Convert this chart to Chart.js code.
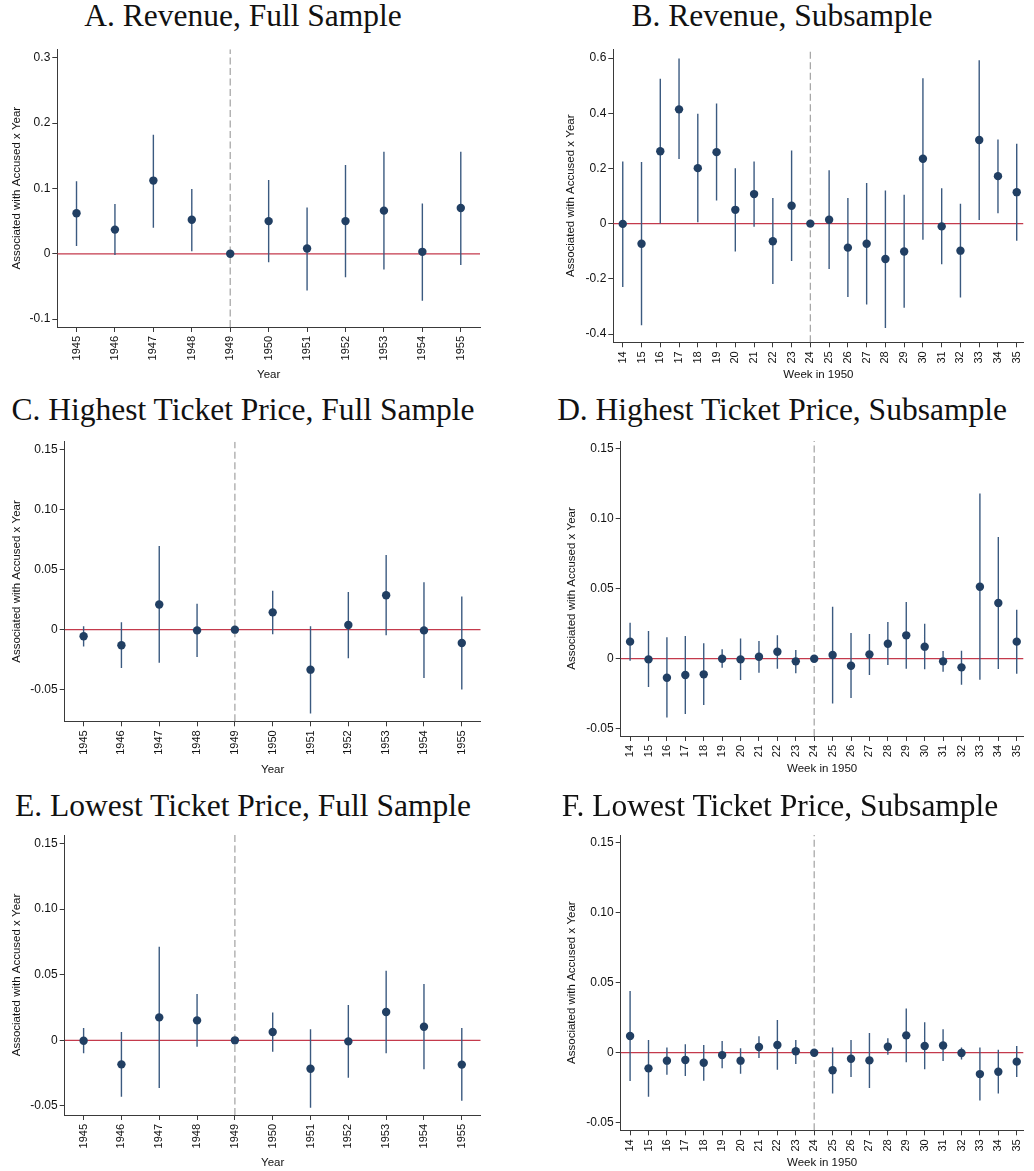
<!DOCTYPE html>
<html><head><meta charset="utf-8">
<script src="https://cdn.jsdelivr.net/npm/chart.js@4.4.1/dist/chart.umd.min.js"></script>
<style>
html,body{margin:0;padding:0;background:#fff;}
#wrap{position:relative;width:1034px;height:1171px;overflow:hidden;background:#fff;}
canvas{position:absolute;}
.ttl{position:absolute;width:600px;text-align:center;font-family:"Liberation Serif","Times New Roman",serif;font-size:31.5px;line-height:31.5px;color:#111;white-space:nowrap;}
</style></head><body><div id="wrap"></div>
<script>
// ---- categories ----
const years = [1945,1946,1947,1948,1949,1950,1951,1952,1953,1954,1955];
const weeks = [14,15,16,17,18,19,20,21,22,23,24,25,26,27,28,29,30,31,32,33,34,35];
const refYear = 1949;
const refWeek = 24;

// ---- tick labels ----
const yTicksRev = [-0.1,0,0.1,0.2,0.3];
const yLabelsRev = ["-0.1","0","0.1","0.2","0.3"];
const yTicksRevSub = [-0.4,-0.2,0,0.2,0.4,0.6];
const yLabelsRevSub = ["-0.4","-0.2","0","0.2","0.4","0.6"];
const yTicksPrice = [-0.05,0,0.05,0.10,0.15];
const yLabelsPrice = ["-0.05","0","0.05","0.10","0.15"];

// ---- A. Revenue, Full Sample ----
const coefA = [0.062,0.037,0.112,0.052,0,0.050,0.008,0.050,0.066,0.003,0.070];
const loA   = [0.012,-0.002,0.040,0.004,null,-0.013,-0.056,-0.036,-0.024,-0.072,-0.017];
const hiA   = [0.111,0.076,0.182,0.099,null,0.113,0.071,0.136,0.156,0.077,0.156];

// ---- B. Revenue, Subsample ----
const coefB = [-0.001,-0.073,0.262,0.414,0.201,0.259,0.050,0.107,-0.064,0.065,0,0.014,-0.087,-0.073,-0.128,-0.101,0.235,-0.010,-0.098,0.303,0.172,0.114];
const loB   = [-0.230,-0.368,0.000,0.234,0.005,0.084,-0.101,-0.011,-0.219,-0.135,null,-0.164,-0.266,-0.293,-0.378,-0.305,-0.058,-0.147,-0.268,0.013,0.038,-0.062];
const hiB   = [0.225,0.223,0.525,0.598,0.398,0.435,0.201,0.225,0.093,0.265,null,0.193,0.093,0.147,0.120,0.105,0.527,0.128,0.072,0.592,0.305,0.289];

// ---- C. Highest Ticket Price, Full Sample ----
const coefC = [-0.0055,-0.013,0.021,-0.0006,0,0.0144,-0.0333,0.0039,0.0286,-0.0006,-0.0111];
const loC   = [-0.0141,-0.0319,-0.0275,-0.0227,null,-0.0039,-0.0699,-0.0239,-0.0047,-0.0402,-0.0499];
const hiC   = [0.0028,0.0061,0.0696,0.0216,null,0.0325,0.0028,0.0313,0.0621,0.0394,0.0277];

// ---- D. Highest Ticket Price, Subsample ----
const coefD = [0.0122,-0.0005,-0.0136,-0.0117,-0.0112,0,-0.0005,0.0014,0.005,-0.0019,0,0.0026,-0.005,0.0031,0.0107,0.0167,0.0086,-0.0019,-0.0062,0.0515,0.0398,0.0122];
const loD   = [-0.0014,-0.0203,-0.042,-0.0396,-0.0331,-0.0064,-0.0153,-0.01,-0.0072,-0.0105,null,-0.032,-0.0281,-0.0117,-0.0045,-0.0072,-0.0076,-0.0093,-0.0186,-0.015,-0.0074,-0.0107];
const hiD   = [0.0257,0.0198,0.0153,0.0162,0.011,0.0067,0.0145,0.0126,0.0167,0.0062,null,0.0372,0.0184,0.0176,0.0262,0.0405,0.025,0.0055,0.0057,0.1182,0.087,0.035];

// ---- E. Lowest Ticket Price, Full Sample ----
const coefE = [-0.0003,-0.0183,0.0175,0.0152,0,0.0064,-0.0216,-0.0008,0.0216,0.0104,-0.0185];
const loE   = [-0.0099,-0.043,-0.0363,-0.0048,null,-0.0086,-0.0513,-0.0285,-0.0099,-0.0221,-0.046];
const hiE   = [0.0094,0.0064,0.0714,0.0353,null,0.0213,0.0084,0.0269,0.0531,0.0429,0.0094];

// ---- F. Lowest Ticket Price, Subsample ----
const coefF = [0.0119,-0.0112,-0.0057,-0.0052,-0.0072,-0.0017,-0.0057,0.0041,0.0055,0.001,0,-0.0126,-0.0043,-0.0055,0.0043,0.0124,0.0048,0.0052,-0.0002,-0.0153,-0.0136,-0.0064];
const loF   = [-0.0203,-0.0315,-0.0157,-0.0167,-0.02,-0.0112,-0.015,-0.0038,-0.0122,-0.0081,null,-0.0291,-0.0174,-0.0253,-0.0014,-0.0069,-0.0119,-0.006,-0.0048,-0.0341,-0.0291,-0.0174];
const hiF   = [0.0441,0.0091,0.0038,0.006,0.0055,0.0083,0.0031,0.0117,0.0234,0.0091,null,0.0038,0.0091,0.0141,0.0103,0.0317,0.0217,0.0167,0.0038,0.0038,0.0021,0.0048];

const panels = [
  {title:"A. Revenue, Full Sample", cats:years, coef:coefA, lo:loA, hi:hiA, ref:refYear, xTitle:"Year",
   yTicks:yTicksRev, yLabels:yLabelsRev, xMin:1944.5, xMax:1955.5, yMin:-0.112, yMax:0.313,
   g:{cx:0,cy:40,cw:500,ch:350,L:57.3,R:480,T:46.7,B:327,yT:16.5,xT:375,tc:243,tb:26}},
  {title:"B. Revenue, Subsample", cats:weeks, coef:coefB, lo:loB, hi:hiB, ref:refWeek, xTitle:"Week in 1950",
   yTicks:yTicksRevSub, yLabels:yLabelsRevSub, xMin:13.496, xMax:35.36, yMin:-0.43, yMax:0.632,
   g:{cx:520,cy:40,cw:514,ch:350,L:613.3,R:1034,T:46.7,B:342.3,yT:571,xT:375,tc:782,tb:26}},
  {title:"C. Highest Ticket Price, Full Sample", cats:years, coef:coefC, lo:loC, hi:hiC, ref:refYear, xTitle:"Year",
   yTicks:yTicksPrice, yLabels:yLabelsPrice, xMin:1944.5, xMax:1955.5, yMin:-0.0763, yMax:0.1565,
   g:{cx:0,cy:430,cw:500,ch:352,L:64.7,R:480.7,T:441.7,B:721.3,yT:16.5,xT:770,tc:243,tb:420}},
  {title:"D. Highest Ticket Price, Subsample", cats:weeks, coef:coefD, lo:loD, hi:hiD, ref:refWeek, xTitle:"Week in 1950",
   yTicks:yTicksPrice, yLabels:yLabelsPrice, xMin:13.49, xMax:35.37, yMin:-0.0553, yMax:0.1557,
   g:{cx:520,cy:430,cw:514,ch:352,L:620.7,R:1034,T:441,B:736,yT:571.7,xT:769,tc:782,tb:420}},
  {title:"E. Lowest Ticket Price, Full Sample", cats:years, coef:coefE, lo:loE, hi:hiE, ref:refYear, xTitle:"Year",
   yTicks:yTicksPrice, yLabels:yLabelsPrice, xMin:1944.5, xMax:1955.5, yMin:-0.0569, yMax:0.1565,
   g:{cx:0,cy:820,cw:500,ch:351,L:64.7,R:480.7,T:835,B:1115,yT:16.5,xT:1163,tc:243,tb:816}},
  {title:"F. Lowest Ticket Price, Subsample", cats:weeks, coef:coefF, lo:loF, hi:hiF, ref:refWeek, xTitle:"Week in 1950",
   yTicks:yTicksPrice, yLabels:yLabelsPrice, xMin:13.49, xMax:35.37, yMin:-0.0555, yMax:0.1557,
   g:{cx:520,cy:820,cw:514,ch:351,L:620.7,R:1034,T:835,B:1130.3,yT:571.7,xT:1163,tc:780,tb:816}}
];

const wrap = document.getElementById('wrap');
const SANS = '"Liberation Sans", Arial, Helvetica, sans-serif';
const AX = '#3a3a3a';
const DOT = '#213f63';
const BAR = '#3b5a80';
const RED = '#c43a4c';
const DASH = '#a8a8a8';
const TFS = 11.5, TLH = TFS * 1.2;

panels.forEach(p => {
  const g = p.g;
  // title (real text)
  const t = document.createElement('div');
  t.className = 'ttl';
  t.textContent = p.title;
  t.style.left = (g.tc - 300) + 'px';
  t.style.top = (g.tb - 26) + 'px';
  wrap.appendChild(t);

  const cv = document.createElement('canvas');
  cv.width = g.cw; cv.height = g.ch;
  cv.style.left = g.cx + 'px'; cv.style.top = g.cy + 'px';
  cv.style.width = g.cw + 'px'; cv.style.height = g.ch + 'px';
  wrap.appendChild(cv);

  const pts = p.cats.map((c, i) => ({x: c, y: p.coef[i]}));
  const bars = [];
  p.cats.forEach((c, i) => {
    if (p.lo[i] !== null && p.hi[i] !== null) {
      bars.push({x: c, y: p.lo[i]}, {x: c, y: p.hi[i]}, {x: c, y: null});
    }
  });

  new Chart(cv, {
    type: 'scatter',
    data: {
      datasets: [
        {data: pts, showLine: false, pointRadius: 4.2, pointBackgroundColor: DOT, pointBorderColor: DOT, pointBorderWidth: 0, order: 0},
        {data: bars, showLine: true, spanGaps: false, borderColor: BAR, borderWidth: 1.4, pointRadius: 0, order: 1},
        {data: [{x: p.ref, y: p.yMin}, {x: p.ref, y: p.yMax}], showLine: true, borderColor: DASH, borderWidth: 1.3, borderDash: [7, 3.5], pointRadius: 0, order: 2},
        {data: [{x: p.xMin, y: 0}, {x: p.xMax, y: 0}], showLine: true, borderColor: RED, borderWidth: 1.3, pointRadius: 0, order: 3}
      ]
    },
    options: {
      responsive: false,
      animation: false,
      devicePixelRatio: 1,
      events: [],
      layout: {padding: {left: 0, top: g.T - g.cy, right: g.cx + g.cw - g.R, bottom: 0}},
      plugins: {legend: {display: false}, tooltip: {enabled: false}, title: {display: false}},
      scales: {
        x: {
          type: 'linear', min: p.xMin, max: p.xMax,
          afterBuildTicks: ax => { ax.ticks = p.cats.map(v => ({value: v})); },
          afterFit: sc => { sc.height = g.cy + g.ch - g.B; },
          ticks: {autoSkip: false, minRotation: 90, maxRotation: 90, padding: 4, color: '#111',
                  font: {family: SANS, size: 11}, callback: v => String(v)},
          grid: {drawOnChartArea: false, drawTicks: true, tickLength: 5, color: AX},
          border: {display: true, color: AX, width: 1},
          title: {display: true, text: p.xTitle, color: '#111', font: {family: SANS, size: TFS},
                  padding: {top: 0, bottom: g.cy + g.ch - g.xT - TLH / 2}}
        },
        y: {
          type: 'linear', min: p.yMin, max: p.yMax,
          afterBuildTicks: ax => { ax.ticks = p.yTicks.map(v => ({value: v})); },
          afterFit: sc => { sc.width = g.L - g.cx; },
          ticks: {padding: 2, color: '#111', font: {family: SANS, size: 12},
                  callback: v => { const k = p.yTicks.findIndex(t => Math.abs(t - v) < 1e-9); return k >= 0 ? p.yLabels[k] : ''; }},
          grid: {drawOnChartArea: false, drawTicks: true, tickLength: 5, color: AX},
          border: {display: true, color: AX, width: 1},
          title: {display: true, text: 'Associated with Accused x Year', color: '#111', font: {family: SANS, size: TFS},
                  padding: {top: g.yT - g.cx - TLH / 2, bottom: 0}}
        }
      }
    }
  });
});
</script>
</body></html>
